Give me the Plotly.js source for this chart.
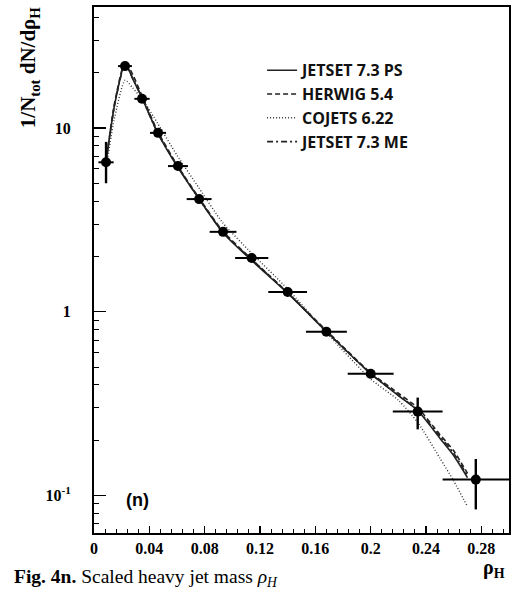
<!DOCTYPE html>
<html>
<head>
<meta charset="utf-8">
<script src="https://cdn.plot.ly/plotly-3.0.1.min.js"></script>
<style>html,body{margin:0;padding:0;background:#fff;}#chart{width:515px;height:600px;}</style>
</head>
<body>
<div id="chart"></div>
<script>
// ---- measured data (scaled heavy jet mass) ----
const dataX      = [0.0087, 0.0224, 0.0347, 0.0463, 0.0607, 0.076, 0.0933, 0.114, 0.140, 0.168, 0.200, 0.234, 0.276];
const dataY      = [6.5, 21.7, 14.4, 9.4, 6.2, 4.1, 2.72, 1.96, 1.28, 0.778, 0.46, 0.286, 0.122];
const dataXErr   = [0.0055, 0.005, 0.0055, 0.0058, 0.0072, 0.009, 0.0097, 0.012, 0.014, 0.0148, 0.0166, 0.018, 0.024];
const dataYErrUp = [1.9, 0.6, 0.3, 0.2, 0.12, 0.08, 0.05, 0.04, 0.03, 0.02, 0.015, 0.055, 0.036];
const dataYErrDn = [1.5, 0.6, 0.3, 0.2, 0.12, 0.08, 0.05, 0.04, 0.03, 0.02, 0.015, 0.057, 0.038];

// ---- model curves ----
const curveX     = [0.0087, 0.015, 0.0225, 0.028, 0.035, 0.046, 0.060, 0.076, 0.093, 0.114, 0.140, 0.168, 0.200, 0.220, 0.234, 0.250, 0.260, 0.270];
const jetsetPS   = [6.5, 13.5, 22.5, 18.5, 14.4, 9.4, 6.2, 4.1, 2.70, 1.90, 1.26, 0.78, 0.46, 0.350, 0.290, 0.205, 0.165, 0.125];
const herwig     = [6.6, 13.8, 23.0, 19.5, 14.8, 9.6, 6.3, 4.15, 2.75, 1.93, 1.27, 0.79, 0.465, 0.360, 0.300, 0.215, 0.175, 0.132];
const cojets     = [6.0, 11.5, 18.2, 16.5, 14.3, 10.6, 7.1, 4.7, 3.05, 2.08, 1.33, 0.77, 0.430, 0.330, 0.250, 0.160, 0.120, 0.087];
const jetsetME   = [6.5, 13.5, 22.3, 18.6, 14.4, 9.4, 6.25, 4.1, 2.72, 1.92, 1.27, 0.78, 0.460, 0.352, 0.292, 0.210, 0.170, 0.128];

const seriesNames = ['JETSET 7.3 PS', 'HERWIG 5.4', 'COJETS 6.22', 'JETSET 7.3 ME'];

// axis tick labels
const yMajorVals = [0.1, 1, 10];
const yMajorText = ['10<sup>-1</sup>', '1', '10'];
const yMinorVals = [0.07, 0.08, 0.09, 0.2, 0.3, 0.4, 0.5, 0.6, 0.7, 0.8, 0.9, 2, 3, 4, 5, 6, 7, 8, 9, 20, 30, 40];
const xTickVals  = [0, 0.04, 0.08, 0.12, 0.16, 0.2, 0.24, 0.28];
const xTickText  = ['0', '0.04', '0.08', '0.12', '0.16', '0.2', '0.24', '0.28'];

const curveStyles = [
  {dash: 'solid', width: 1.6, color: '#222'},
  {dash: '5px,3px', width: 1.6, color: '#222'},
  {dash: '1px,2px', width: 1.4, color: '#333'},
  {dash: '6px,3px,2px,3px', width: 1.6, color: '#222'}
];
const curveData = [jetsetPS, herwig, cojets, jetsetME];

const traces = curveData.map((ys, i) => ({
  type: 'scatter', mode: 'lines', x: curveX, y: ys, name: seriesNames[i],
  line: Object.assign({shape: 'spline', smoothing: 0.6}, curveStyles[i]),
  hoverinfo: 'skip'
}));

traces.push({
  type: 'scatter', mode: 'markers', x: dataX, y: dataY, showlegend: false,
  marker: {color: '#000', size: 10, symbol: 'circle'},
  error_x: {type: 'data', array: dataXErr, color: '#000', thickness: 2, width: 0},
  error_y: {type: 'data', array: dataYErrUp, arrayminus: dataYErrDn, color: '#000', thickness: 2.4, width: 0}
});

const serif = 'Liberation Serif, Times New Roman, serif';
const sans = 'Liberation Sans, Arial, sans-serif';

const layout = {
  width: 515, height: 600,
  margin: {l: 94, r: 6, t: 7, b: 67},
  paper_bgcolor: '#fff', plot_bgcolor: '#fff',
  showlegend: true,
  legend: {
    x: 0.405, y: 0.912, xanchor: 'left', yanchor: 'top',
    bgcolor: 'rgba(0,0,0,0)', borderwidth: 0,
    font: {family: 'Open Sans, Liberation Sans, sans-serif', size: 16, color: '#111', weight: 'bold'},
    tracegroupgap: 0
  },
  xaxis: {
    type: 'linear', range: [0, 0.3],
    showline: true, mirror: true, linecolor: '#000', linewidth: 2,
    showgrid: false, zeroline: false,
    tickmode: 'array', tickvals: xTickVals, ticktext: xTickText,
    ticks: 'inside', ticklen: 7, tickwidth: 1.2, tickcolor: '#000',
    tickfont: {family: serif, size: 16, color: '#000', weight: 'bold'},
    minor: {dtick: 0.008, tick0: 0, ticks: 'inside', ticklen: 4, tickwidth: 1, tickcolor: '#000', showgrid: false}
  },
  yaxis: {
    type: 'log', range: [Math.log10(0.0625), Math.log10(45.5)],
    showline: true, mirror: true, linecolor: '#000', linewidth: 2,
    showgrid: false, zeroline: false,
    tickmode: 'array', tickvals: yMajorVals, ticktext: yMajorText,
    ticks: 'inside', ticklen: 12, tickwidth: 1.2, tickcolor: '#000',
    tickfont: {family: serif, size: 16, color: '#000', weight: 'bold'},
    ticklabelstandoff: 18,
    minor: {tickmode: 'array', tickvals: yMinorVals, ticks: 'inside', ticklen: 5, tickwidth: 1, tickcolor: '#000', showgrid: false}
  },
  annotations: [
    {xref: 'paper', yref: 'paper', x: -0.155, y: 0.885, xanchor: 'center', yanchor: 'middle',
     textangle: -90, showarrow: false,
     text: '1/N<sub>tot</sub> dN/dρ<sub>H</sub>',
     font: {family: serif, size: 21, color: '#000', weight: 'bold'}},
    {xref: 'paper', yref: 'paper', x: 0.965, y: -0.068, xanchor: 'center', yanchor: 'middle',
     showarrow: false, text: 'ρ<sub>H</sub>',
     font: {family: serif, size: 20, color: '#000', weight: 'bold'}},
    {xref: 'paper', yref: 'paper', x: -0.197, y: -0.086, xanchor: 'left', yanchor: 'middle',
     showarrow: false, text: '<b>Fig. 4n.</b> Scaled heavy jet mass <i>ρ<sub>H</sub></i>',
     font: {family: serif, size: 19.5, color: '#000'}},
    {xref: 'paper', yref: 'paper', x: 0.104, y: 0.063, xanchor: 'center', yanchor: 'middle',
     showarrow: false, text: '(n)',
     font: {family: sans, size: 18, color: '#000', weight: 'bold'}}
  ]
};

Plotly.newPlot('chart', traces, layout, {displayModeBar: false, staticPlot: true});
</script>
</body>
</html>
